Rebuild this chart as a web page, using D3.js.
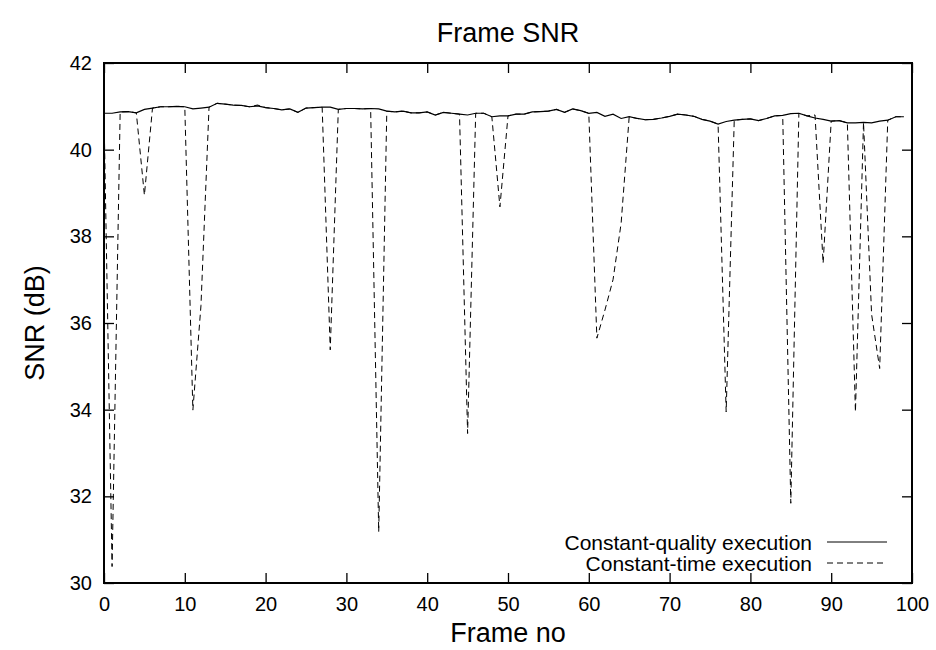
<!DOCTYPE html>
<html>
<head>
<meta charset="utf-8">
<script src="https://cdn.jsdelivr.net/npm/d3@7"></script>
<style>
  html, body { margin: 0; padding: 0; background: #fff; }
  svg { display: block; font-family: "Liberation Sans", Arial, Helvetica, sans-serif; }
</style>
</head>
<body>
<svg id="chart" width="936" height="650"></svg>
<script>
// ---- Data ----
const frames = d3.range(0, 100);

const constantQuality = [
  40.84, 40.84, 40.87, 40.88, 40.85, 40.93, 40.96, 40.99, 40.99, 41.00,
  40.99, 40.94, 40.96, 40.98, 41.07, 41.05, 41.03, 41.02, 40.99, 41.01,
  40.97, 40.95, 40.92, 40.94, 40.86, 40.96, 40.97, 40.98, 40.98, 40.93,
  40.95, 40.95, 40.94, 40.95, 40.94, 40.89, 40.87, 40.89, 40.85, 40.85,
  40.87, 40.80, 40.86, 40.84, 40.82, 40.80, 40.84, 40.84, 40.76, 40.78,
  40.78, 40.82, 40.82, 40.87, 40.88, 40.89, 40.93, 40.86, 40.94, 40.90,
  40.84, 40.86, 40.77, 40.82, 40.72, 40.76, 40.72, 40.69, 40.70, 40.73,
  40.77, 40.82, 40.80, 40.77, 40.70, 40.66, 40.59, 40.65, 40.68, 40.70,
  40.71, 40.67, 40.72, 40.78, 40.79, 40.83, 40.84, 40.78, 40.73, 40.70,
  40.66, 40.67, 40.62, 40.62, 40.63, 40.62, 40.66, 40.68, 40.76, 40.76
];

const constantTime = [
  40.84, 30.38, 40.87, 40.88, 40.85, 38.95, 40.96, 40.99, 40.99, 41.00,
  40.99, 33.99, 36.40, 40.98, 41.07, 41.05, 41.03, 41.02, 40.99, 41.03,
  40.97, 40.95, 40.92, 40.94, 40.86, 40.96, 40.97, 40.98, 35.38, 40.93,
  40.95, 40.95, 40.94, 40.95, 31.18, 40.89, 40.87, 40.89, 40.85, 40.85,
  40.87, 40.80, 40.86, 40.84, 40.82, 33.45, 40.84, 40.84, 40.76, 38.68,
  40.78, 40.82, 40.82, 40.87, 40.88, 40.89, 40.93, 40.86, 40.94, 40.90,
  40.84, 35.65, 36.30, 37.00, 38.30, 40.76, 40.72, 40.69, 40.70, 40.73,
  40.77, 40.82, 40.80, 40.77, 40.70, 40.66, 40.59, 33.95, 40.68, 40.70,
  40.71, 40.67, 40.72, 40.78, 40.79, 31.84, 40.84, 40.78, 40.80, 37.38,
  40.66, 40.67, 40.62, 33.95, 40.63, 36.20, 34.95, 40.68, 40.76, 40.76
];

const xTicks = [0, 10, 20, 30, 40, 50, 60, 70, 80, 90, 100];
const yTicks = [30, 32, 34, 36, 38, 40, 42];
const seriesNames = ["Constant-quality execution", "Constant-time execution"];
const titleText = "Frame SNR";
const xLabel = "Frame no";
const yLabel = "SNR (dB)";

// ---- Layout ----
const svg = d3.select("#chart");
const pLeft = 104, pRight = 912, pTop = 63, pBottom = 583;

const x = d3.scaleLinear().domain([0, 100]).range([pLeft, pRight]);
const y = d3.scaleLinear().domain([30, 42]).range([pBottom, pTop]);

const tickLen = 10;
const tickFont = 20;

// Axes with inward ticks
const xAxisB = d3.axisBottom(x).tickValues(xTicks).tickSizeInner(-tickLen).tickSizeOuter(0).tickPadding(14);
const xAxisT = d3.axisTop(x).tickValues(xTicks).tickSizeInner(-tickLen).tickSizeOuter(0).tickFormat("");
const yAxisL = d3.axisLeft(y).tickValues(yTicks).tickSizeInner(-tickLen).tickSizeOuter(0).tickPadding(12);
const yAxisR = d3.axisRight(y).tickValues(yTicks).tickSizeInner(-tickLen).tickSizeOuter(0).tickFormat("");

function styleAxis(g) {
  g.select(".domain").remove();
  g.selectAll(".tick line").attr("stroke", "#000").attr("stroke-width", 1.3);
  g.selectAll(".tick text").attr("fill", "#000").attr("font-size", tickFont)
    .attr("font-family", "Liberation Sans, Arial, sans-serif");
}

svg.append("g").attr("transform", `translate(0,${pBottom})`).call(xAxisB).call(styleAxis);
svg.append("g").attr("transform", `translate(0,${pTop})`).call(xAxisT).call(styleAxis);
svg.append("g").attr("transform", `translate(${pLeft},0)`).call(yAxisL).call(styleAxis);
svg.append("g").attr("transform", `translate(${pRight},0)`).call(yAxisR).call(styleAxis);

// border
svg.append("rect")
  .attr("x", pLeft).attr("y", pTop)
  .attr("width", pRight - pLeft).attr("height", pBottom - pTop)
  .attr("fill", "none").attr("stroke", "#000").attr("stroke-width", 2);

// Lines
const line = d3.line().x((d, i) => x(frames[i])).y(d => y(d));

svg.append("path")
  .datum(constantTime)
  .attr("d", line)
  .attr("fill", "none").attr("stroke", "#000").attr("stroke-width", 1)
  .attr("stroke-dasharray", "6,4");

svg.append("path")
  .datum(constantQuality)
  .attr("d", line)
  .attr("fill", "none").attr("stroke", "#000").attr("stroke-width", 1.2);

// Legend
const legX = 812, legY1 = 542, legY2 = 563;
const leg = svg.append("g").attr("font-size", 21).attr("fill", "#000");
leg.append("text").attr("x", legX).attr("y", legY1 + 7.5)
  .attr("text-anchor", "end").text(seriesNames[0]);
leg.append("text").attr("x", legX).attr("y", legY2 + 7.5)
  .attr("text-anchor", "end").text(seriesNames[1]);
leg.append("line").attr("x1", 827).attr("x2", 887).attr("y1", legY1).attr("y2", legY1)
  .attr("stroke", "#000").attr("stroke-width", 1);
leg.append("line").attr("x1", 827).attr("x2", 887).attr("y1", legY2).attr("y2", legY2)
  .attr("stroke", "#000").attr("stroke-width", 1).attr("stroke-dasharray", "6,4");

// Titles
svg.append("text").attr("x", (pLeft + pRight) / 2).attr("y", 42)
  .attr("text-anchor", "middle").attr("font-size", 27).text(titleText);
svg.append("text").attr("x", (pLeft + pRight) / 2).attr("y", 642)
  .attr("text-anchor", "middle").attr("font-size", 27).text(xLabel);
svg.append("text")
  .attr("transform", `translate(44,${(pTop + pBottom) / 2}) rotate(-90)`)
  .attr("text-anchor", "middle").attr("font-size", 27).text(yLabel);
</script>
</body>
</html>
